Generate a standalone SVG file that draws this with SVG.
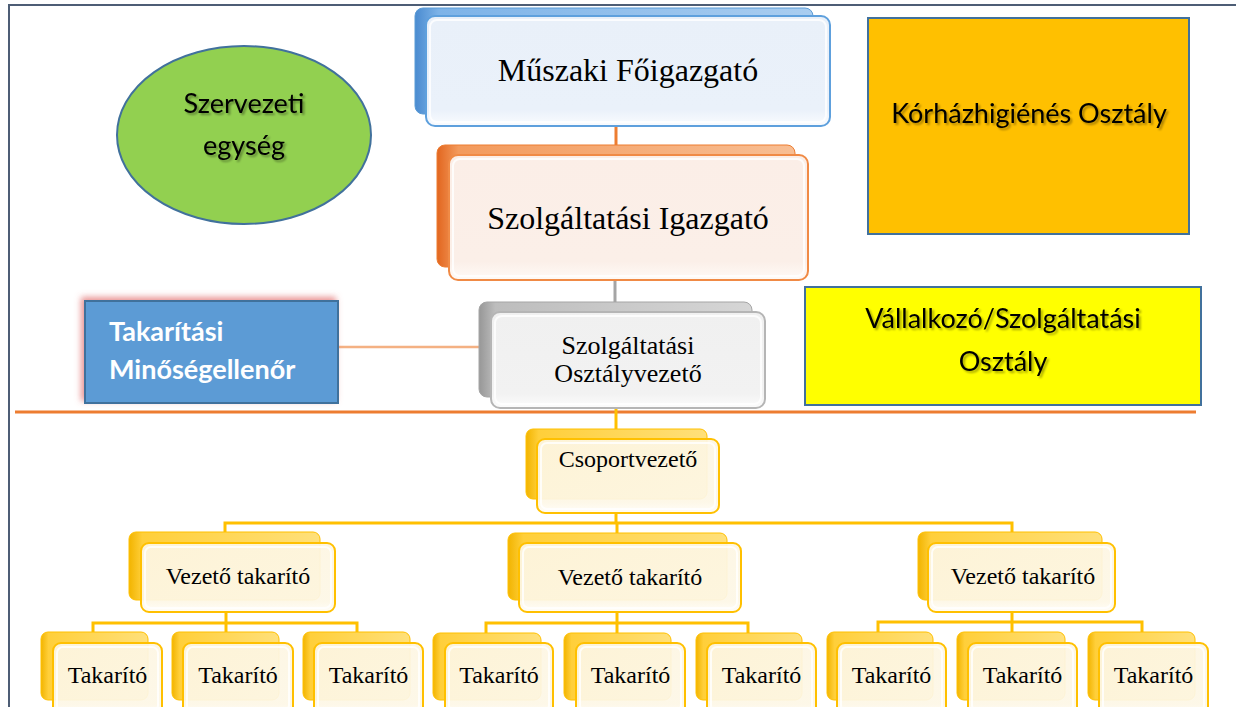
<svg xmlns="http://www.w3.org/2000/svg" width="1236" height="707" viewBox="0 0 1236 707">
<defs>
<linearGradient id="gBlue" x1="0" y1="0" x2="1" y2="0"><stop offset="0" stop-color="#4A8BD0"/><stop offset="0.06" stop-color="#7DB3E8"/><stop offset="1" stop-color="#A9CDF0"/></linearGradient>
<linearGradient id="gOrange" x1="0" y1="0" x2="1" y2="0"><stop offset="0" stop-color="#E2661F"/><stop offset="0.06" stop-color="#F39A5C"/><stop offset="1" stop-color="#F8BE93"/></linearGradient>
<linearGradient id="gGray" x1="0" y1="0" x2="1" y2="0"><stop offset="0" stop-color="#979797"/><stop offset="0.06" stop-color="#BDBDBD"/><stop offset="1" stop-color="#D6D6D6"/></linearGradient>
<linearGradient id="gYellow" x1="0" y1="0" x2="1" y2="0"><stop offset="0" stop-color="#F2B400"/><stop offset="0.07" stop-color="#FFCF3A"/><stop offset="1" stop-color="#FFE07A"/></linearGradient>
<linearGradient id="fBlue" x1="0" y1="0" x2="0" y2="1"><stop offset="0" stop-color="#E9F0F9"/><stop offset="0.85" stop-color="#EAF1FA"/><stop offset="1" stop-color="#FAFCFF"/></linearGradient>
<linearGradient id="fOrange" x1="0" y1="0" x2="0" y2="1"><stop offset="0" stop-color="#FBEEE7"/><stop offset="0.85" stop-color="#FBEFE8"/><stop offset="1" stop-color="#FFFAF7"/></linearGradient>
<linearGradient id="fGray" x1="0" y1="0" x2="0" y2="1"><stop offset="0" stop-color="#F0F0F0"/><stop offset="0.85" stop-color="#F2F2F2"/><stop offset="1" stop-color="#FCFCFC"/></linearGradient>
<linearGradient id="fYellow" x1="0" y1="0" x2="0" y2="1"><stop offset="0" stop-color="#FDF6E3"/><stop offset="0.85" stop-color="#FDF7E6"/><stop offset="1" stop-color="#FFFDF7"/></linearGradient>
<filter id="glow" x="-20%" y="-30%" width="140%" height="160%">
<feGaussianBlur in="SourceAlpha" stdDeviation="3" result="b"/>
<feOffset in="b" dx="-3" dy="-3" result="o"/>
<feFlood flood-color="#E06666" flood-opacity="0.7"/>
<feComposite in2="o" operator="in" result="s"/>
<feMerge><feMergeNode in="s"/><feMergeNode in="SourceGraphic"/></feMerge>
</filter>
<filter id="tshadow" x="-10%" y="-30%" width="120%" height="160%">
<feGaussianBlur in="SourceAlpha" stdDeviation="1" result="b"/>
<feOffset in="b" dx="1.5" dy="1.5" result="o"/>
<feComponentTransfer in="o" result="s"><feFuncA type="linear" slope="0.35"/></feComponentTransfer>
<feMerge><feMergeNode in="s"/><feMergeNode in="SourceGraphic"/></feMerge>
</filter>
</defs>
<style>
.serif{font-family:"Liberation Serif","Times New Roman",serif;fill:#000;text-anchor:middle}
.sans{font-family:Lato,"Liberation Sans",sans-serif;fill:#000;text-anchor:middle}
.frame{stroke:#4D5D75;stroke-width:2;fill:none}
.bB{fill:url(#gBlue);stroke:#5B9BD5;stroke-width:1}
.fB{fill:url(#fBlue);stroke:#5EA0DD;stroke-width:2}
.bO{fill:url(#gOrange);stroke:#ED7D31;stroke-width:1}
.fO{fill:url(#fOrange);stroke:#F08A45;stroke-width:2}
.bG{fill:url(#gGray);stroke:#A5A5A5;stroke-width:1}
.fG{fill:url(#fGray);stroke:#B5B5B5;stroke-width:2}
.bY{fill:url(#gYellow);stroke:#FFC000;stroke-width:1}
.fY{fill:url(#fYellow);stroke:#FFC000;stroke-width:2;fill-opacity:0.93}
.hl{fill:none;stroke:#FFFFFF;stroke-opacity:0.8;stroke-width:2}
.cY{stroke:#FFC000;stroke-width:3;fill:none}
.box{stroke:#41719C;stroke-width:2}
</style>

<g id="frame">
<line class="frame" x1="8" y1="5" x2="1236" y2="5"/>
<line class="frame" x1="9" y1="4" x2="9" y2="707"/>
</g>

<g id="connectors">
<line x1="616" y1="126" x2="616" y2="147" stroke="#ED7D31" stroke-width="3"/>
<line x1="615" y1="280" x2="615" y2="303" stroke="#A5A5A5" stroke-width="3"/>
<line x1="338" y1="347" x2="480" y2="347" stroke="#F4B183" stroke-width="2.5"/>
<line x1="15" y1="412" x2="1196" y2="412" stroke="#ED7D31" stroke-width="3"/>
<line class="cY" x1="616" y1="408" x2="616" y2="430"/>
<polyline class="cY" points="616,513 616,523"/>
<polyline class="cY" points="225,533 225,523 1012,523 1012,533"/>
<line class="cY" x1="617" y1="523" x2="617" y2="534"/>
<polyline class="cY" points="226,612 226,623"/>
<polyline class="cY" points="93,633 93,623 357,623 357,633"/>
<line class="cY" x1="226" y1="623" x2="226" y2="633"/>
<polyline class="cY" points="617,612 617,623"/>
<polyline class="cY" points="486,634 486,623 748,623 748,634"/>
<line class="cY" x1="617" y1="623" x2="617" y2="634"/>
<polyline class="cY" points="1012,612 1012,622"/>
<polyline class="cY" points="878,633 878,622 1142,622 1142,633"/>
<line class="cY" x1="1012" y1="622" x2="1012" y2="633"/>
</g>

<g id="szervezeti-egyseg">
<ellipse cx="244" cy="135" rx="127" ry="89" fill="#92D050" stroke="#41719C" stroke-width="2"/>
<text class="sans" filter="url(#tshadow)" font-size="27" x="244" y="113">Szervezeti</text>
<text class="sans" filter="url(#tshadow)" font-size="27" x="244" y="155">egység</text>
</g>

<g id="korhazhigienes">
<rect class="box" x="868" y="18" width="321" height="216" fill="#FFC000"/>
<text class="sans" filter="url(#tshadow)" font-size="27" x="1029" y="123">Kórházhigiénés Osztály</text>
</g>

<g id="vallalkozo">
<rect class="box" x="805" y="287" width="396" height="118" fill="#FFFF00"/>
<text class="sans" filter="url(#tshadow)" font-size="27" x="1003" y="328">Vállalkozó/Szolgáltatási</text>
<text class="sans" filter="url(#tshadow)" font-size="27" x="1003" y="371">Osztály</text>
</g>

<g id="muszaki-foigazgato">
<rect class="bB" x="415" y="8" width="398" height="106" rx="8"/>
<rect class="fB" x="426" y="16" width="404" height="110" rx="9"/>
<rect class="hl" x="430" y="20" width="396" height="102" rx="7"/>
<text class="serif" font-size="32" x="628" y="81">Műszaki Főigazgató</text>
</g>

<g id="szolgaltatasi-igazgato">
<rect class="bO" x="437" y="145" width="358" height="122" rx="8"/>
<rect class="fO" x="449" y="155" width="359" height="125" rx="9"/>
<rect class="hl" x="453" y="159" width="351" height="117" rx="7"/>
<text class="serif" font-size="32" x="628" y="229">Szolgáltatási Igazgató</text>
</g>

<g id="szolgaltatasi-osztalyvezeto">
<rect class="bG" x="479" y="302" width="273" height="95" rx="8"/>
<rect class="fG" x="491" y="312" width="274" height="96" rx="9"/>
<rect class="hl" x="495" y="316" width="266" height="88" rx="7"/>
<text class="serif" font-size="26" x="628" y="354">Szolgáltatási</text>
<text class="serif" font-size="26" x="628" y="382">Osztályvezető</text>
</g>

<g id="takaritasi-minosegellenor">
<rect x="85" y="301" width="253" height="102" fill="#5B9BD5" stroke="#41719C" stroke-width="2" filter="url(#glow)"/>
<text font-family="Lato,'Liberation Sans',sans-serif" font-weight="bold" font-size="27" fill="#FFFFFF" x="109" y="341">Takarítási</text>
<text font-family="Lato,'Liberation Sans',sans-serif" font-weight="bold" font-size="27" fill="#FFFFFF" x="109" y="379">Minőségellenőr</text>
</g>

<g id="csoportvezeto">
<rect class="bY" x="526" y="429" width="181" height="70" rx="7"/>
<rect class="fY" x="537" y="439" width="182" height="74" rx="8"/>
<rect class="hl" x="541" y="443" width="174" height="66" rx="6"/>
<text class="serif" font-size="24" x="628" y="467">Csoportvezető</text>
</g>

<g id="vezeto-takarito-1">
<rect class="bY" x="129" y="532" width="191" height="68" rx="7"/>
<rect class="fY" x="141" y="543" width="194" height="69" rx="8"/>
<rect class="hl" x="145" y="547" width="186" height="61" rx="6"/>
<text class="serif" font-size="24" x="238" y="584">Vezető takarító</text>
</g>
<g id="vezeto-takarito-2">
<rect class="bY" x="508" y="533" width="219" height="67" rx="7"/>
<rect class="fY" x="519" y="543" width="222" height="69" rx="8"/>
<rect class="hl" x="523" y="547" width="214" height="61" rx="6"/>
<text class="serif" font-size="24" x="630" y="585">Vezető takarító</text>
</g>
<g id="vezeto-takarito-3">
<rect class="bY" x="918" y="532" width="184" height="68" rx="7"/>
<rect class="fY" x="928" y="543" width="187" height="69" rx="8"/>
<rect class="hl" x="932" y="547" width="179" height="61" rx="6"/>
<text class="serif" font-size="24" x="1023" y="584">Vezető takarító</text>
</g>

<g id="takarito-1"><rect class="bY" x="41" y="632" width="107" height="68" rx="7"/><rect class="fY" x="53" y="643" width="109" height="72" rx="8"/><rect class="hl" x="57" y="647" width="101" height="64" rx="6"/><text class="serif" font-size="24" x="107.5" y="683">Takarító</text></g>
<g id="takarito-2"><rect class="bY" x="172" y="632" width="107" height="68" rx="7"/><rect class="fY" x="183" y="643" width="110" height="72" rx="8"/><rect class="hl" x="187" y="647" width="102" height="64" rx="6"/><text class="serif" font-size="24" x="238" y="683">Takarító</text></g>
<g id="takarito-3"><rect class="bY" x="303" y="632" width="107" height="68" rx="7"/><rect class="fY" x="314" y="643" width="109" height="72" rx="8"/><rect class="hl" x="318" y="647" width="101" height="64" rx="6"/><text class="serif" font-size="24" x="368.5" y="683">Takarító</text></g>
<g id="takarito-4"><rect class="bY" x="433" y="633" width="108" height="67" rx="7"/><rect class="fY" x="445" y="643" width="108" height="72" rx="8"/><rect class="hl" x="449" y="647" width="100" height="64" rx="6"/><text class="serif" font-size="24" x="499" y="683">Takarító</text></g>
<g id="takarito-5"><rect class="bY" x="564" y="633" width="107" height="67" rx="7"/><rect class="fY" x="576" y="643" width="109" height="72" rx="8"/><rect class="hl" x="580" y="647" width="101" height="64" rx="6"/><text class="serif" font-size="24" x="630.5" y="683">Takarító</text></g>
<g id="takarito-6"><rect class="bY" x="696" y="633" width="106" height="67" rx="7"/><rect class="fY" x="707" y="643" width="109" height="72" rx="8"/><rect class="hl" x="711" y="647" width="101" height="64" rx="6"/><text class="serif" font-size="24" x="761.5" y="683">Takarító</text></g>
<g id="takarito-7"><rect class="bY" x="827" y="632" width="106" height="68" rx="7"/><rect class="fY" x="837" y="643" width="109" height="72" rx="8"/><rect class="hl" x="841" y="647" width="101" height="64" rx="6"/><text class="serif" font-size="24" x="891.5" y="683">Takarító</text></g>
<g id="takarito-8"><rect class="bY" x="957" y="632" width="108" height="68" rx="7"/><rect class="fY" x="968" y="643" width="109" height="72" rx="8"/><rect class="hl" x="972" y="647" width="101" height="64" rx="6"/><text class="serif" font-size="24" x="1022.5" y="683">Takarító</text></g>
<g id="takarito-9"><rect class="bY" x="1088" y="632" width="107" height="68" rx="7"/><rect class="fY" x="1099" y="643" width="109" height="72" rx="8"/><rect class="hl" x="1103" y="647" width="101" height="64" rx="6"/><text class="serif" font-size="24" x="1153.5" y="683">Takarító</text></g>
</svg>
